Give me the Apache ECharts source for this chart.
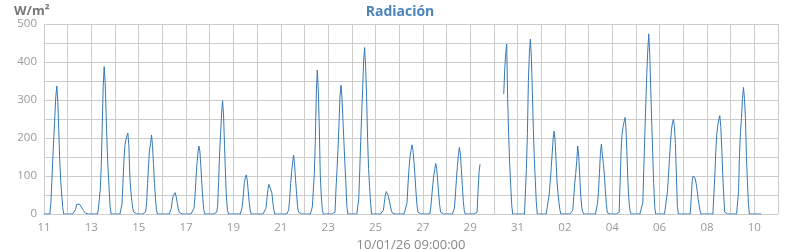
<!DOCTYPE html>
<html>
<head>
<meta charset="utf-8">
<script src="https://cdn.jsdelivr.net/npm/echarts@6/dist/echarts.min.js"></script>
<style>html,body{margin:0;padding:0;background:#fff}#c{width:800px;height:250px}</style>
</head>
<body>
<div id="c"></div>
<script>
// Hourly radiation (W/m²), one row per day starting 11 Dec 2025 00:00; null = missing
const startDate = [2025, 11, 11];
const dayNames = ['11','12','13','14','15','16','17','18','19','20','21','22','23','24','25','26','27','28','29','30','31','01','02','03','04','05','06','07','08','09','10'];
const hourlyByDay = [
  [0,0,0,0,0,0,0,30,89,151,205,258,310,337,297,218,139,85,50,17,0,0,0,0],
  [0,0,0,0,0,0,0,0,12,25,30,29,26,22,18,13,9,5,2,0,0,0,0,0],
  [0,0,0,0,0,0,0,10,37,63,125,231,335,388,345,260,177,113,68,19,0,0,0,0],
  [0,0,0,0,0,0,0,25,80,140,180,195,205,213,180,100,60,35,15,5,0,0,0,0],
  [0,0,0,0,0,0,0,5,30,80,130,170,185,208,180,130,80,40,10,0,0,0,0,0],
  [0,0,0,0,0,0,0,0,5,15,35,48,53,56,45,30,15,5,0,0,0,0,0,0],
  [0,0,0,0,0,0,0,0,15,45,90,130,160,179,165,125,80,40,10,0,0,0,0,0],
  [0,0,0,0,0,0,0,5,20,85,160,210,265,298,260,180,100,40,10,0,0,0,0,0],
  [0,0,0,0,0,0,0,0,5,20,50,80,95,103,90,60,30,10,0,0,0,0,0,0],
  [0,0,0,0,0,0,0,0,3,15,40,65,78,80,75,55,30,10,0,0,0,0,0,0],
  [0,0,0,0,0,0,0,0,10,40,80,110,135,155,130,90,55,20,5,0,0,0,0,0],
  [0,0,0,0,0,0,0,0,19,63,105,190,316,379,328,234,105,50,15,0,0,0,0,0],
  [0,0,0,0,0,0,0,5,68,116,170,236,307,339,307,249,190,132,79,19,0,0,0,0],
  [0,0,0,0,0,0,0,37,111,190,263,331,403,438,388,309,198,120,72,32,0,0,0,0],
  [0,0,0,0,0,0,0,0,10,30,50,59,55,48,35,22,10,3,0,0,0,0,0,0],
  [0,0,0,0,0,0,0,0,30,80,120,150,168,182,168,138,100,60,25,5,0,0,0,0],
  [0,0,0,0,0,0,0,0,15,45,75,100,115,133,120,90,55,25,5,0,0,0,0,0],
  [0,0,0,0,0,0,0,0,15,50,90,125,155,175,160,120,75,35,8,0,0,0,0,0],
  [0,0,0,0,0,0,0,5,63,111,131,null,null,null,null,null,null,null,null,null,null,null,null,null],
  [null,null,null,null,null,null,null,null,null,null,316,381,423,447,302,208,133,79,28,0,0,0,0,0],
  [0,0,0,0,0,0,0,0,5,120,212,352,423,460,414,322,225,146,88,32,0,0,0,0],
  [0,0,0,0,0,0,0,0,50,81,116,155,196,218,195,142,87,54,30,10,0,0,0,0],
  [0,0,0,0,0,0,0,0,10,46,81,107,140,179,151,103,50,19,6,0,0,0,0,0],
  [0,0,0,0,0,0,0,0,5,28,56,107,160,184,155,133,103,63,28,3,0,0,0,0],
  [0,0,0,0,0,0,0,5,85,168,212,230,243,254,221,151,76,32,9,0,0,0,0,0],
  [0,0,0,0,0,0,0,30,120,210,290,370,431,474,420,330,240,160,80,20,0,0,0,0],
  [0,0,0,0,0,0,0,0,60,103,146,186,221,240,249,230,186,103,20,0,0,0,0,0],
  [0,0,0,0,0,0,0,0,41,85,100,98,94,81,63,41,24,9,0,0,0,0,0,0],
  [0,0,0,0,0,0,0,0,103,168,212,234,247,259,230,173,103,46,5,0,0,0,0,0],
  [0,0,0,0,0,0,0,0,59,160,217,252,304,333,304,252,151,85,28,0,0,0,0,0],
  [0,0,0,0,0,0,0,0]
];
const yTicks = [0, 100, 200, 300, 400, 500];
const lastReading = '10/01/26 09:00:00';

const HOUR = 3600000, DAY = 86400000;
const t0 = Date.UTC(startDate[0], startDate[1], startDate[2]);
const seriesData = [];
hourlyByDay.forEach((row, d) => {
  row.forEach((v, h) => { seriesData.push([t0 + d * DAY + h * HOUR, v]); });
});

const chart = echarts.init(document.getElementById('c'), null, {renderer: 'canvas'});
const font = 'Open Sans';
chart.setOption({
  animation: false,
  textStyle: {fontFamily: font},
  title: [
    {text: 'Radiación', left: 'center', top: 0,
     textStyle: {color: '#4a84bb', fontSize: 14, fontWeight: 'bold', fontFamily: font}},
    {text: 'W/m²', left: 9, top: 0,
     textStyle: {color: '#777', fontSize: 13, fontWeight: 'bold', fontFamily: font}}
  ],
  grid: {left: 44, right: 22, top: 24, bottom: 36, containLabel: false, outerBoundsMode: 'none'},
  xAxis: {
    type: 'value',
    min: t0,
    max: t0 + 31 * DAY,
    interval: DAY,
    name: lastReading,
    nameLocation: 'middle',
    nameGap: 22,
    nameTextStyle: {color: '#888', fontSize: 13, fontFamily: font},
    axisLine: {show: true, lineStyle: {color: '#ccc'}},
    axisTick: {show: false},
    splitLine: {show: true, lineStyle: {color: '#ccc', width: 1}},
    axisLabel: {
      color: '#999', fontSize: 11.5, margin: 8, fontFamily: font,
      showMinLabel: true, showMaxLabel: true,
      formatter: function (v) {
        const d = Math.round((v - t0) / DAY);
        if (d % 2 !== 0 || d >= dayNames.length) return '';
        return dayNames[d];
      }
    }
  },
  yAxis: {
    type: 'value',
    min: 0, max: 500, interval: 50,
    axisLine: {show: false},
    axisTick: {show: false},
    splitLine: {show: true, lineStyle: {color: '#ccc', width: 1}},
    axisLabel: {
      color: '#999', fontSize: 11.5, margin: 7, fontFamily: font,
      formatter: function (v) { return yTicks.indexOf(v) >= 0 ? String(v) : ''; }
    }
  },
  series: [{
    type: 'line',
    data: seriesData,
    showSymbol: false,
    connectNulls: false,
    lineStyle: {color: '#3579b9', width: 1},
    itemStyle: {color: '#3579b9'}
  }]
});
</script>
</body>
</html>
